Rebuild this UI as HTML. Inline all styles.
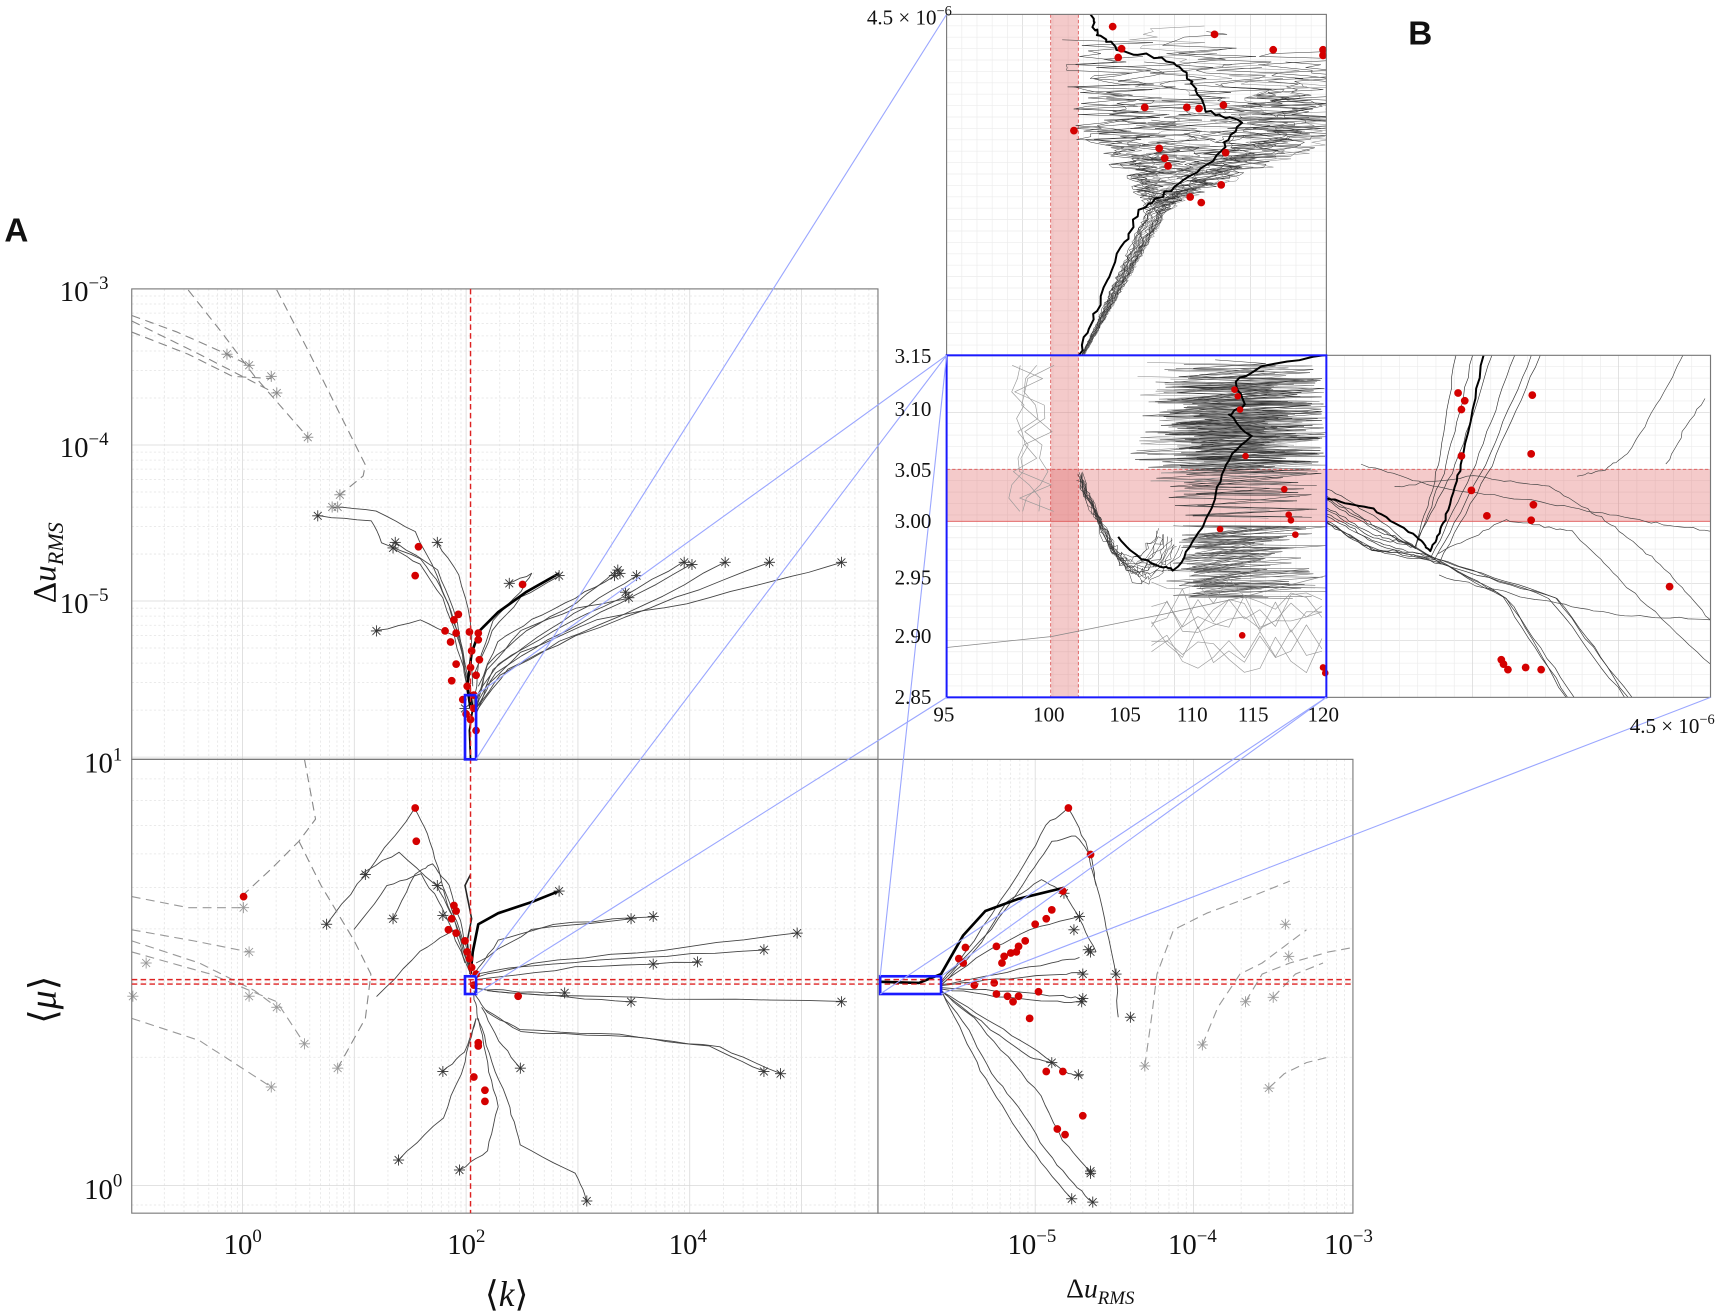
<!DOCTYPE html>
<html><head><meta charset="utf-8"><style>
html,body{margin:0;padding:0;background:#fff}
svg{display:block}
text{font-family:"Liberation Serif",serif;fill:#111}
.b{font-family:"Liberation Sans",sans-serif;font-weight:bold}
</style></head><body>
<svg id="s" xmlns="http://www.w3.org/2000/svg" width="1736" height="1315" viewBox="0 0 1568 1188" preserveAspectRatio="none">
<defs>
<clipPath id="cTL"><rect x="119" y="261" width="674" height="425"/></clipPath>
<clipPath id="cBL"><rect x="119" y="686" width="674" height="410"/></clipPath>
<clipPath id="cBR"><rect x="793" y="686" width="429" height="410"/></clipPath>
<clipPath id="cIT"><rect x="855" y="13" width="343" height="308"/></clipPath>
<clipPath id="cIM"><rect x="855" y="321" width="343" height="309"/></clipPath>
<clipPath id="cIR"><rect x="1198" y="321" width="347" height="309"/></clipPath>
</defs>
<g id="grid"></g>
<g id="bands">
<rect x="949" y="13" width="25" height="617" fill="rgba(220,90,90,0.32)"/>
<line x1="949" y1="13" x2="949" y2="630" stroke="#d55" stroke-width="0.8" stroke-dasharray="3,2"/>
<line x1="974" y1="13" x2="974" y2="630" stroke="#d55" stroke-width="0.8" stroke-dasharray="3,2"/>
<rect x="855" y="424" width="690" height="47" fill="rgba(220,90,90,0.32)"/>
<line x1="855" y1="424" x2="1545" y2="424" stroke="#d55" stroke-width="0.8" stroke-dasharray="3,2"/>
<line x1="855" y1="471" x2="1545" y2="471" stroke="#d55" stroke-width="0.8"/>
</g>
<g id="data"></g>
<g id="frames" fill="none" stroke="#777" stroke-width="1">
<rect x="119" y="261" width="674" height="425"/>
<rect x="119" y="686" width="674" height="410"/>
<rect x="793" y="686" width="429" height="410"/>
<rect x="855" y="13" width="343" height="308"/>
<rect x="1198" y="321" width="347" height="309"/>
</g>
<g stroke="#d22" stroke-width="1.3" stroke-dasharray="5,3" fill="none">
<line x1="425" y1="261" x2="425" y2="1096"/>
<line x1="119" y1="885" x2="1222" y2="885"/>
<line x1="119" y1="889" x2="1222" y2="889"/>
</g>
<g stroke="#1a1aff" stroke-width="2.4" fill="none">
<rect x="420" y="628" width="10" height="58"/>
<rect x="420" y="882" width="10" height="16"/>
<rect x="795" y="882" width="55" height="16"/>
<rect x="855" y="321" width="343" height="309" stroke-width="1.8"/>
</g>
<g stroke="#9aa6ff" stroke-width="1" fill="none">
<line x1="855" y1="13" x2="430" y2="686"/>
<line x1="855" y1="321" x2="430" y2="628"/>
<line x1="855" y1="321" x2="430" y2="882"/>
<line x1="855" y1="630" x2="430" y2="898"/>
<line x1="855" y1="321" x2="795" y2="882"/>
<line x1="1198" y1="630" x2="850" y2="882"/>
<line x1="1198" y1="630" x2="795" y2="898"/>
<line x1="1545" y1="630" x2="850" y2="898"/>
</g>
<text class="b" x="4" y="218" font-size="30">A</text>
<text class="b" x="1272" y="40" font-size="30">B</text>
<g font-size="26">
<text x="54" y="272">10<tspan dy="-11" font-size="17">−3</tspan></text>
<text x="54" y="413">10<tspan dy="-11" font-size="17">−4</tspan></text>
<text x="54" y="554">10<tspan dy="-11" font-size="17">−5</tspan></text>
<text x="76" y="698">10<tspan dy="-11" font-size="17">1</tspan></text>
<text x="76" y="1083">10<tspan dy="-11" font-size="17">0</tspan></text>
<text x="202" y="1133">10<tspan dy="-11" font-size="17">0</tspan></text>
<text x="404" y="1133">10<tspan dy="-11" font-size="17">2</tspan></text>
<text x="604" y="1133">10<tspan dy="-11" font-size="17">4</tspan></text>
<text x="910" y="1133">10<tspan dy="-11" font-size="17">−5</tspan></text>
<text x="1055" y="1133">10<tspan dy="-11" font-size="17">−4</tspan></text>
<text x="1196" y="1133">10<tspan dy="-11" font-size="17">−3</tspan></text>
</g>
<text x="438" y="1180" font-size="32">⟨<tspan font-style="italic">k</tspan>⟩</text>
<text x="963" y="1172" font-size="25">Δ<tspan font-style="italic">u</tspan><tspan font-style="italic" font-size="17" dy="6">RMS</tspan></text>
<text transform="translate(50,545) rotate(-90)" font-size="30">Δ<tspan font-style="italic">u</tspan><tspan font-style="italic" font-size="20" dy="7">RMS</tspan></text>
<text transform="translate(50,925) rotate(-90)" font-size="34">⟨<tspan font-style="italic">μ</tspan>⟩</text>
<g font-size="19">
<text x="783" y="22">4.5 × 10<tspan dy="-8" font-size="13">−6</tspan></text>
<text x="1472" y="662">4.5 × 10<tspan dy="-8" font-size="13">−6</tspan></text>
<text x="808" y="328">3.15</text><text x="808" y="376">3.10</text><text x="808" y="431">3.05</text>
<text x="808" y="477">3.00</text><text x="808" y="528">2.95</text><text x="808" y="581">2.90</text><text x="808" y="636">2.85</text>
<text x="843" y="652">95</text><text x="933" y="652">100</text><text x="1002" y="652">105</text>
<text x="1063" y="652">110</text><text x="1118" y="652">115</text><text x="1181" y="652">120</text>
</g>
</svg>
<script>
(function(){
var NS="http://www.w3.org/2000/svg";
var G=document.getElementById('grid'),D=document.getElementById('data');
var seed=12345;function R(){seed=(seed*1103515245+12345)&0x7fffffff;return seed/0x7fffffff;}
function el(p,t,a){var e=document.createElementNS(NS,t);for(var k in a)e.setAttribute(k,a[k]);p.appendChild(e);return e;}
function ln(p,x1,y1,x2,y2,c,w,d){var a={x1:x1,y1:y1,x2:x2,y2:y2,stroke:c,'stroke-width':w||0.7};if(d)a['stroke-dasharray']=d;el(p,'line',a);}
function L10(v){return Math.log(v)/Math.LN10;}
for(var n=-1;n<=5;n++)for(var m=1;m<10;m++){var x=219+101*(n+L10(m));if(x>119&&x<793){ln(G,x,261,x,1096,m==1?'#d8d8d8':'#e4e4e4',0.7,m==1?null:'2,2');}}
for(var n=-7;n<=-3;n++)for(var m=1;m<10;m++){var y=261-141*(n+3+L10(m));if(y>261&&y<686)ln(G,119,y,793,y,m==1?'#d8d8d8':'#e4e4e4',0.7,m==1?null:'2,2');}
var vs=[0.8,0.9,1,2,3,4,5,6,7,8,9];vs.forEach(function(v){var y=1071-385*L10(v);if(y>686&&y<1096)ln(G,119,y,1222,y,v==1?'#d8d8d8':'#e4e4e4',0.7,v==1?null:'2,2');});
for(var n=-7;n<=-4;n++)for(var m=1;m<10;m++){var x=935+143*(n+5+L10(m));if(x>793&&x<1222)ln(G,x,686,x,1096,m==1?'#d8d8d8':'#e4e4e4',0.7,m==1?null:'2,2');}
for(var i=0;i<=25;i++){var x=855+i*13.72;ln(G,x,13,x,630,i%5==0?'#d4d4d4':'#ececec',0.6);}
for(var i=0;i<=30;i++){var y=321+i*10.3;ln(G,855,y,1545,y,i%5==0?'#d4d4d4':'#ececec',0.6);}
for(var i=0;i<=30;i++){var y=13+i*10.3;ln(G,855,y,1198,y,'#ececec',0.6);}
for(var i=0;i<=21;i++){var x=1198+i*16.5;ln(G,x,321,x,630,i%8==0?'#d4d4d4':'#ececec',0.6);}
function pl(p,pts,c,w,d,clip){var s=pts.map(function(q){return q[0].toFixed(1)+','+q[1].toFixed(1)}).join(' ');var a={points:s,fill:'none',stroke:c,'stroke-width':w,'stroke-linejoin':'round'};if(d)a['stroke-dasharray']=d;if(clip)a['clip-path']='url(#'+clip+')';el(p,'polyline',a);}
function wig(pts,amp,steps){var o=[];for(var i=0;i<pts.length-1;i++){for(var j=0;j<steps;j++){var t=j/steps;o.push([pts[i][0]+(pts[i+1][0]-pts[i][0])*t+(R()-.5)*amp,pts[i][1]+(pts[i+1][1]-pts[i][1])*t+(R()-.5)*amp]);}}o.push(pts[pts.length-1]);return o;}
function star(x,y,c){var g=el(D,'g',{stroke:c||'#333','stroke-width':0.8});for(var k=0;k<4;k++){var a=k*Math.PI/4;ln(g,x-5*Math.cos(a),y-5*Math.sin(a),x+5*Math.cos(a),y+5*Math.sin(a),c||'#333',0.8);}}
function dot(x,y,r){el(D,'circle',{cx:x,cy:y,r:r||3.5,fill:'#d40000'});}
var TL=[[[287,466],[335,470],[345,490],[380,505],[398,530],[410,560],[422,610],[425,640]],
[[300,458],[340,462],[375,480],[395,520],[415,575],[424,640]],
[[355,495],[380,510],[400,540],[418,590],[425,640]],
[[357,490],[395,515],[410,550],[420,600]],
[[395,490],[415,520],[425,560],[427,620]],
[[340,570],[380,560],[410,575],[424,620]],
[[460,527],[480,518],[470,535],[445,560],[432,600],[428,640]],
[[555,520],[520,540],[480,560],[450,580],[432,620]],
[[558,515],[520,545],[475,570],[440,600],[430,640]],
[[575,520],[530,548],[485,575],[445,605],[430,640]],
[[618,508],[560,540],[500,570],[450,600],[430,630]],
[[625,510],[560,545],[495,578],[448,608],[430,640]],
[[655,508],[580,548],[505,580],[452,610],[430,640]],
[[695,508],[610,540],[520,575],[458,605],[432,640]],
[[760,508],[700,525],[620,545],[540,560],[470,590],[440,620],[430,645]],
[[570,540],[520,550],[470,570],[440,605],[428,640]],
[[505,520],[470,540],[445,570],[428,610]]];
TL.forEach(function(p){pl(D,wig(p,1.5,4),'#444',0.8,null,'cTL');});
pl(D,[[425,640],[422,620],[426,590],[433,570],[450,553],[475,535],[505,518]],'#000',2.4,null,'cTL');
pl(D,[[425,686],[424,660],[427,640],[425,625]],'#000',1.6,null,'cTL');
pl(D,[[119,285],[160,300],[205,320],[225,330]],'#888',1,'8,5','cTL');
pl(D,[[119,300],[170,320],[210,340],[245,342]],'#888',1,'8,5','cTL');
pl(D,[[119,290],[180,320],[248,355]],'#888',1,'8,5','cTL');
pl(D,[[170,262],[200,300],[230,340],[278,395]],'#888',1,'8,5','cTL');
pl(D,[[250,262],[280,320],[310,380],[330,420],[328,430],[307,447]],'#888',1,'8,5','cTL');
[[205,320],[225,330],[245,340],[250,355],[278,395],[307,447],[305,458],[300,458],[287,466],[355,495],[357,490],[395,490],[460,527],[340,570],[420,640],[505,520],[555,520],[558,515],[560,518],[575,520],[618,508],[625,510],[655,508],[695,508],[760,508],[568,540],[565,535]].forEach(function(q){star(q[0],q[1],q[1]<460?'#888':'#333');});
[[378,494],[375,520],[472,528],[410,560],[414,555],[402,570],[412,572],[407,580],[424,571],[432,572],[432,578],[412,600],[408,615],[425,603],[430,610],[422,620],[428,628],[418,632],[428,640],[425,650],[430,660],[421,645],[433,596],[426,588]].forEach(function(q){dot(q[0],q[1],3.5);});
var BL=[[[295,835],[330,790],[375,730],[388,760],[400,800],[415,840],[425,880]],
[[355,830],[375,790],[390,780],[405,800],[418,840],[425,880]],
[[325,790],[360,770],[400,805],[425,870]],
[[395,800],[410,830],[425,880]],
[[320,840],[350,800],[380,790],[400,820],[420,870]],
[[340,900],[380,860],[410,840],[425,880]],
[[590,828],[500,835],[450,850],[428,880]],
[[570,830],[480,840],[430,870]],
[[690,858],[580,865],[480,872],[430,880]],
[[720,843],[600,858],[480,870],[430,883]],
[[760,905],[600,902],[470,898],[430,893]],
[[630,869],[520,874],[430,885]],
[[570,905],[500,900],[440,895]],
[[510,897],[470,896],[432,893]],
[[690,968],[640,945],[560,935],[470,930],[440,915],[428,895]],
[[705,970],[650,946],[570,937],[470,932],[438,912]],
[[470,965],[450,940],[435,910]],
[[400,968],[420,950],[430,920]],
[[360,1048],[400,1010],[420,960],[430,920]],
[[415,1057],[440,1040],[450,1000],[440,960],[432,920]],
[[530,1085],[520,1060],[470,1035],[460,1000],[445,960],[432,920],[428,898]]];
BL.forEach(function(p){pl(D,wig(p,1.5,5),'#444',0.8,null,'cBL');});
pl(D,[[425,880],[427,860],[432,835],[450,825],[480,815],[505,805]],'#000',2.4,null,'cBL');
pl(D,[[425,880],[422,850],[426,830],[420,800],[425,790]],'#222',1.4,null,'cBL');
pl(D,[[275,686],[285,740],[270,760],[245,785],[218,810]],'#888',1,'8,5','cBL');
pl(D,[[270,760],[290,800],[320,850],[335,880],[330,920],[305,965]],'#888',1,'8,5','cBL');
pl(D,[[119,810],[170,820],[220,820]],'#999',1,'8,5','cBL');
pl(D,[[119,840],[175,850],[225,860]],'#999',1,'8,5','cBL');
pl(D,[[119,850],[180,870],[230,895],[250,910]],'#999',1,'8,5','cBL');
pl(D,[[119,860],[190,880],[250,905],[275,943]],'#999',1,'8,5','cBL');
pl(D,[[119,920],[180,940],[245,982]],'#999',1,'8,5','cBL');
[[220,820],[225,860],[132,870],[225,900],[250,910],[275,943],[305,965],[245,982],[120,900]].forEach(function(q){star(q[0],q[1],'#999');});
[[295,835],[330,790],[355,830],[395,800],[400,827],[505,805],[570,830],[590,828],[690,858],[720,843],[590,871],[630,869],[760,905],[570,905],[510,897],[690,968],[705,970],[470,965],[400,968],[360,1048],[415,1057],[530,1085]].forEach(function(q){star(q[0],q[1]);});
[[375,730],[376,760],[220,810],[410,818],[412,823],[408,830],[405,840],[412,843],[420,850],[422,860],[424,866],[426,874],[430,880],[428,890],[468,900],[432,942],[432,945],[428,973],[438,985],[438,995]].forEach(function(q){dot(q[0],q[1],3.5);});
var BR=[[[850,888],[880,850],[920,790],[945,745],[965,730],[980,760],[988,790],[1000,840],[1008,880],[1010,919]],
[[850,888],[895,840],[930,790],[950,760],[972,755],[985,772],[990,800]],
[[850,890],[880,860],[910,815],[940,795],[960,805],[975,830],[990,860]],
[[850,890],[890,860],[930,840],[975,828]],
[[850,890],[900,880],[950,870],[975,865]],
[[850,890],[900,885],[960,880],[980,878]],
[[850,893],[900,895],[960,900],[978,902]],
[[850,893],[900,900],[950,905],[978,905]],
[[850,895],[880,920],[910,955],[940,990],[960,1030],[985,1060]],
[[850,895],[875,930],[895,970],[920,1000],[945,1040],[970,1070],[987,1086]],
[[850,895],[870,935],[890,975],[915,1015],[940,1050],[968,1083]],
[[850,895],[890,920],[930,945],[965,970],[978,972]],
[[850,895],[895,930],[930,955],[950,960]]];
BR.forEach(function(p){pl(D,wig(p,1.5,5),'#444',0.8,null,'cBR');});
pl(D,[[795,887],[830,888],[850,880],[870,845],[890,823],[920,812],[961,802]],'#000',2.4,null,'cBR');
pl(D,[[1034,963],[1040,920],[1045,880],[1060,840],[1090,825],[1130,810],[1165,796]],'#999',1,'8,5','cBR');
pl(D,[[1086,944],[1100,910],[1120,880],[1140,870],[1160,855],[1180,840]],'#999',1,'8,5','cBR');
pl(D,[[1125,905],[1140,880],[1165,870],[1200,860],[1222,856]],'#999',1,'8,5','cBR');
pl(D,[[1150,901],[1170,880],[1195,870]],'#999',1,'8,5','cBR');
pl(D,[[1146,983],[1160,970],[1180,960],[1200,955]],'#999',1,'8,5','cBR');
[[1034,963],[1086,944],[1146,983],[1125,905],[1150,901],[1164,864],[1161,835]].forEach(function(q){star(q[0],q[1],'#999');});
[[1021,919],[974,971],[987,1086],[961,807],[985,860],[983,858],[970,840],[975,828],[978,880],[978,902],[977,905],[985,1060],[968,1083],[950,960],[985,1058],[1008,880]].forEach(function(q){star(q[0],q[1]);});
[[965,730],[985,772],[900,855],[905,870],[907,864],[913,861],[918,860],[926,850],[920,855],[935,835],[950,822],[960,805],[945,830],[872,856],[866,866],[870,870],[900,898],[910,900],[915,905],[920,900],[938,896],[930,920],[945,968],[960,968],[955,1020],[962,1025],[978,1008],[898,888],[880,890]].forEach(function(q){dot(q[0],q[1],3.5);});
// inset top
for(var i=0;i<26;i++){var o=R(),xe=1010+o*190,pts=[];
 var yend=13+R()*120;
 for(var y=321;y>=yend;y-=2.5){var t=(321-y)/308;var base=978+(1040+o*20-978)*Math.min(1,t/0.45);if(t>0.45)base+=(xe-1050)*Math.min(1,(t-0.45)/0.2);var amp=3+(t>0.4?90*Math.min(1,(t-0.4)/0.3):8*t);pts.push([base+(R()-.5)*amp,y]);}
 pl(D,pts,i%3==0?'#888':'#333',0.45,null,'cIT');}
pl(D,wig([[975,321],[990,280],[1010,230],[1030,190],[1060,170],[1100,140],[1120,110],[1090,100],[1080,80],[1060,55],[1010,45],[990,30],[985,13]],4,8),'#000',1.8,null,'cIT');
[[1005,24],[1013,44],[1010,52],[1097,31],[1150,45],[1195,45],[1195,50],[970,118],[1034,97],[1072,97],[1083,98],[1105,95],[1047,134],[1052,143],[1055,150],[1107,138],[1103,167],[1075,178],[1085,183]].forEach(function(q){dot(q[0],q[1],3.5);});
// inset middle
for(var i=0;i<16;i++){var pts=[],y=325+R()*30,xl=1020+R()*50;var ye=400+R()*75;while(y<ye){pts.push([xl+R()*35,y]);pts.push([1140+R()*60,y+1+R()*3]);y+=5+R()*8;}pl(D,pts,i%3?'#333':'#888',0.45,null,'cIM');}
for(var i=0;i<10;i++){var pts=[],y=475,xl=1050+R()*30;while(y<540){pts.push([xl+R()*30,y]);pts.push([1120+R()*80,y+R()*3]);y+=6+R()*8;}pl(D,pts,'#555',0.45,null,'cIM');}
for(var i=0;i<14;i++){var pts=[],o=R();for(var t=0;t<=1;t+=0.04){var x=975+t*(70+o*30),y=430+Math.sin(t*2.5)*(70+o*30)+(R()-.5)*8;pts.push([x+(R()-.5)*6,y]);}pl(D,pts,'#333',0.45,null,'cIM');}
for(var i=0;i<4;i++){var pts=[],x=880+R()*60;for(var y=330;y<470;y+=12){pts.push([x+(R()-.5)*40,y]);}pl(D,pts,'#999',0.6,null,'cIM');}
for(var i=0;i<8;i++){var pts=[],y=540+R()*60;for(var x=1040;x<1200;x+=14){pts.push([x,y+(R()-.5)*40]);}pl(D,pts,'#999',0.6,null,'cIM');}
pl(D,[[855,585],[950,575],[1050,555],[1120,540],[1198,520]],'#888',0.7,null,'cIM');
pl(D,wig([[1198,322],[1140,330],[1115,345],[1125,365],[1110,375],[1130,395],[1110,415],[1100,440],[1090,470],[1075,495],[1060,515],[1048,512],[1030,505],[1010,485]],3,5),'#000',1.8,null,'cIM');
[[1115,352],[1118,358],[1120,370],[1125,412],[1160,442],[1164,465],[1166,470],[1170,483],[1102,478],[1122,574],[1195,603],[1197,608]].forEach(function(q){dot(q[0],q[1],3);});
// inset right
var IR=[];
for(var i=0;i<12;i++){var a=R(),b=R();var ys=440+a*35;var xm=1270+b*40,ym=490+b*25;var up=i<6;var pts=[[1198,ys],[1240,ys+25],[xm,ym]];
 if(up)pts=pts.concat([[xm+20+a*30,420],[xm+35+a*60,321]]);else pts=pts.concat([[xm+60+a*60,540],[xm+110+a*80,630]]);IR.push(pts);}
IR.forEach(function(p){pl(D,wig(p,2,10),'#333',0.6,null,'cIR');});
pl(D,wig([[1230,420],[1300,440],[1400,455],[1480,470],[1545,480]],2,12),'#444',0.6,null,'cIR');
pl(D,wig([[1260,440],[1330,430],[1400,440],[1450,470],[1500,510],[1545,560]],2,12),'#444',0.6,null,'cIR');
pl(D,wig([[1300,500],[1360,470],[1420,480],[1470,530],[1545,600]],2,12),'#444',0.6,null,'cIR');
pl(D,wig([[1300,520],[1380,540],[1460,555],[1545,560]],2,12),'#444',0.6,null,'cIR');
pl(D,wig([[1505,420],[1520,390],[1540,360]],2,6),'#444',0.6,null,'cIR');
pl(D,wig([[1425,430],[1450,424],[1470,410],[1500,360],[1520,321]],2,8),'#444',0.6,null,'cIR');
pl(D,wig([[1198,450],[1240,460],[1280,485],[1292,498],[1305,470],[1320,420],[1340,321]],1.5,10),'#000',1.8,null,'cIR');
[[1317,355],[1323,362],[1320,370],[1320,412],[1329,443],[1343,466],[1384,357],[1383,410],[1385,456],[1383,470],[1508,530],[1356,596],[1358,600],[1362,605],[1378,603],[1392,605]].forEach(function(q){dot(q[0],q[1],3.5);});
})();
</script>
</body></html>
